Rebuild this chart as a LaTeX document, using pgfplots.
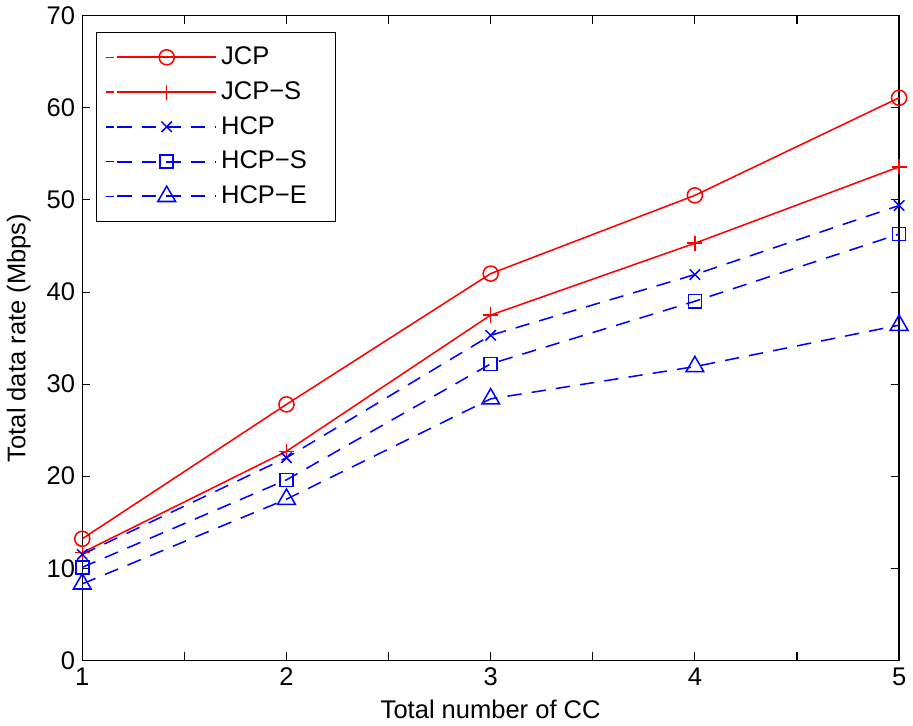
\documentclass[border=0pt]{standalone}
\usepackage{pgfplots}
\pgfplotsset{compat=1.18}
\usepackage{fontspec}
\setmainfont{Liberation Sans}
\usetikzlibrary{plotmarks}

\newcommand{\legtxt}[1]{\makebox[50pt][l]{#1}}

\begin{document}
\begin{tikzpicture}
\begin{axis}[
  scale only axis,
  width=400pt, height=315.6pt,
  xmin=1, xmax=5, ymin=0, ymax=70,
  xtick={1,1.5,...,5},
  xticklabels={1,,2,,3,,4,,5},
  ytick={0,10,...,70},
  tick align=inside,
  major tick length=4pt,
  tick style={black, line width=0.5pt},
  axis line style={line width=0.6pt},
  /pgf/number format/assume math mode=true,
  tick label style={font=\fontsize{12.5}{14}\selectfont},
  label style={font=\fontsize{12.5}{14}\selectfont},
  xlabel={Total number of CC},
  ylabel={Total data rate (Mbps)},
  xlabel style={yshift=0pt},
  ylabel style={yshift=1pt},
  legend style={at={(0.017,0.975)}, anchor=north west, line width=0.6pt,
    font=\fontsize{12.5}{14}\selectfont, row sep=2.8pt, inner xsep=4pt, inner ysep=5pt,
    cells={anchor=west}},
  legend image code/.code={%
    \path (0cm,0cm) -- (0.15cm,0cm);
    \draw[mark=none, line width=0.9pt] (0.2cm,0cm) -- (1.9cm,0cm);
    \draw[line width=0.75pt] plot coordinates {(1.05cm,0cm)};},
  every axis plot/.append style={line width=0.75pt},
]
\addplot[red, mark=o, mark size=3.7pt, mark options={solid}] coordinates {
 (1,13.2)(2,27.8)(3,42.0)(4,50.5)(5,61.1)};
\addlegendentry{\legtxt{JCP}}
\addplot[red, mark=+, mark size=3.7pt, mark options={solid}] coordinates {
 (1,11.7)(2,22.7)(3,37.5)(4,45.3)(5,53.6)};
\addlegendentry{\legtxt{JCP−S}}
\addplot[blue, dash pattern=on 7pt off 5pt, mark=x, mark size=3.6pt, mark options={solid}] coordinates {
 (1,11.5)(2,22.0)(3,35.3)(4,41.9)(5,49.4)};
\addlegendentry{\legtxt{HCP}}
\addplot[blue, dash pattern=on 7pt off 5pt, mark=square, mark size=3.2pt, mark options={solid}] coordinates {
 (1,10.1)(2,19.6)(3,32.2)(4,39.0)(5,46.3)};
\addlegendentry{\legtxt{HCP−S}}
\addplot[blue, dash pattern=on 7pt off 5pt, mark=triangle, mark size=5pt, mark options={solid}] coordinates {
 (1,8.3)(2,17.5)(3,28.4)(4,31.9)(5,36.4)};
\addlegendentry{\legtxt{HCP−E}}
\end{axis}
\end{tikzpicture}
\end{document}
